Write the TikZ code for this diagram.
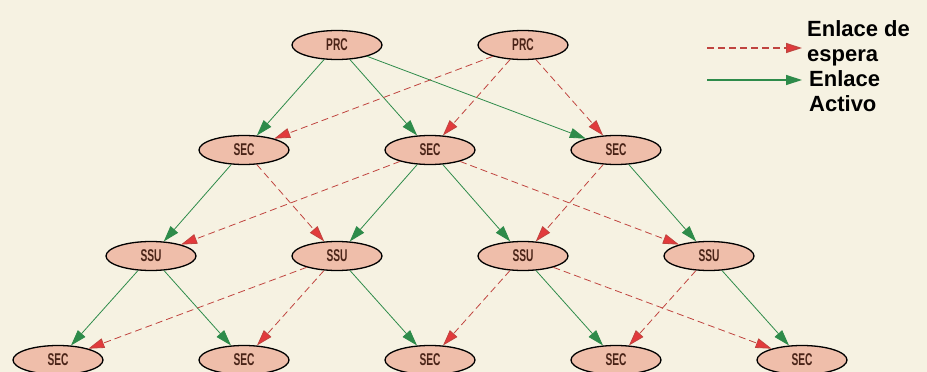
\documentclass[tikz,border=0pt]{standalone}
\usepackage{fontspec}
\setmainfont{Liberation Sans}
\newfontfamily\narrowfont[FakeStretch=0.6]{Liberation Sans}
\usepackage{tikz}
\usetikzlibrary{positioning,arrows.meta,shapes.geometric}
\definecolor{paper}{HTML}{F6F2E2}
\definecolor{unitc}{HTML}{EFBEAA}
\definecolor{inkc}{HTML}{4A2418}
\definecolor{waitc}{HTML}{C0443F}
\definecolor{waittip}{HTML}{E23A3C}
\definecolor{activec}{HTML}{2E8B4A}
\tikzset{
  unit/.style={ellipse, draw=black, line width=1.3pt, fill=unitc, minimum width=90pt,
    minimum height=29pt, inner sep=0pt, text=inkc,
    font={\narrowfont\bfseries\fontsize{17}{17}\selectfont}},
  wait/.style={draw=waitc, line width=0.8pt, dash pattern=on 7pt off 4pt,
    -{Triangle[length=16pt,width=10pt,fill=waittip]}},
  active/.style={draw=activec, line width=0.8pt,
    -{Triangle[length=16pt,width=10pt,fill=activec]}},
  legtext/.style={anchor=north west, inner sep=0pt, align=left,
    font={\bfseries\fontsize{22}{25}\selectfont}},
}

\begin{document}
\begin{tikzpicture}[x=1pt,y=-1pt]
  \fill[paper] (0,0) rectangle (927,372);
  \useasboundingbox (0,0) rectangle (927,372);
  % nodes, columns 93pt apart
  \foreach \k/\n in {3/p1,5/p2} { \node[unit] (\n) at ({58+93*\k},45) {PRC}; }
  \foreach \k/\n in {2/s1,4/s2,6/s3} { \node[unit] (\n) at ({58+93*\k},150) {SEC}; }
  \foreach \k/\n in {1/u1,3/u2,5/u3,7/u4} { \node[unit] (\n) at ({58+93*\k},256) {SSU}; }
  \foreach \k/\n in {0/e1,2/e2,4/e3,6/e4,8/e5} { \node[unit] (\n) at ({58+93*\k},360) {SEC}; }
  % links
  \foreach \a/\b in {p1/s1,p1/s2,p1/s3,s1/u1,s2/u2,s2/u3,s3/u4,u1/e1,u1/e2,u2/e3,u3/e4,u4/e5}
    { \draw[active] (\a) -- (\b); }
  \foreach \a/\b in {p2/s1,p2/s2,p2/s3,s1/u2,s2/u1,s2/u4,s3/u3,u2/e1,u2/e2,u3/e3,u3/e5,u4/e4}
    { \draw[wait] (\a) -- (\b); }
  % legend
  \coordinate (wa) at (707,48);
  \coordinate (wb) at (802,48);
  \coordinate (aa) at (707,80);
  \coordinate (ab) at (802,80);
  \draw[wait, line width=1.2pt] (wa) -- (wb);
  \draw[active, line width=1.2pt] (aa) -- (ab);
  \node[legtext] (wl) at (807,20) {Enlace de\\espera};
  \node[legtext] (al) at (809,70) {Enlace\\Activo};
\end{tikzpicture}
\end{document}
